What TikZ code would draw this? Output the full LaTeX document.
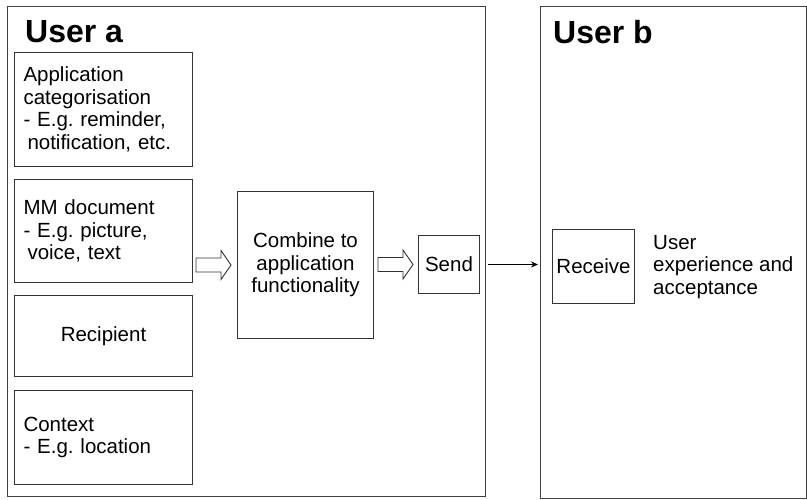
\documentclass[tikz,border=0pt]{standalone}
\usepackage{fontspec}
\setmainfont{Liberation Sans}
\frenchspacing
\usetikzlibrary{arrows.meta,calc}
\tikzset{
  frame/.style={draw=black!75, line width=1.4pt, inner sep=0pt},
  itembox/.style={draw=black!80, line width=1pt, minimum width=178pt, text width=160pt, inner xsep=9pt, align=left, font=\fontsize{20.5}{22.5}\selectfont\frenchspacing},
  plainbox/.style={draw=black!80, line width=1pt, inner sep=0pt, align=center, font=\fontsize{20.5}{22.5}\selectfont},
  title/.style={font=\fontsize{32}{36}\selectfont\bfseries, anchor=base west, inner sep=0pt},
  label/.style={align=left, inner sep=0pt, anchor=west, font=\fontsize{20.5}{22.5}\selectfont},
  blockarrow/.style={draw=black!80, line width=0.9pt, fill=white},
  thinarrow/.style={draw=black, line width=1pt, -{Stealth[length=7pt,width=6pt]}}
}
\begin{document}
\begin{tikzpicture}[x=1pt,y=-1pt]
\useasboundingbox (0,0) rectangle (807,499);
% outer frames
\node[frame, minimum width=478pt, minimum height=490pt, anchor=north west] (ua) at (7,6) {};
\node[frame, minimum width=266pt, minimum height=492pt, anchor=north west] (ub) at (540,6) {};
\node[title] (uat) at (25,42) {User a};
\node[title] (ubt) at (553,43) {User b};
% left column boxes
\node[itembox, minimum height=114pt, anchor=north west] (cat) at (14,52) {Application\\categorisation\\- E.g. reminder,\\\hspace*{4pt}notification, etc.};
\node[itembox, minimum height=103pt, anchor=north west] (mm) at (14,179) {MM document\\- E.g. picture,\\\hspace*{4pt}voice, text};
\node[itembox, minimum height=81pt, anchor=north west, align=center] (rec) at (14,295) {Recipient};
\node[itembox, minimum height=94pt, anchor=north west] (ctx) at (14,390) {Context\\- E.g. location};
% combine and send
\node[plainbox, minimum width=136pt, minimum height=147pt, anchor=north west] (comb) at (237,191) {Combine to\\application\\functionality};
\node[plainbox, minimum width=61pt, minimum height=58pt, anchor=north west] (send) at (418,235) {Send};
% receive
\node[plainbox, minimum width=82pt, minimum height=74pt, anchor=north west] (recv) at (552,229) {Receive};
\node[label] (ux) at (653,267) {User\\experience and\\acceptance};
% block arrows
\draw[blockarrow] let \p1=($(mm.east |- comb.west)+(3,0)$), \p2=($(comb.west)+(-6,0)$) in
  (\x1,\y1+7pt) -- (\x2-10pt,\y1+7pt) -- (\x2-10pt,\y1+14.5pt) -- (\x2,\y1) -- (\x2-10pt,\y1-14.5pt) -- (\x2-10pt,\y1-7pt) -- (\x1,\y1-7pt) -- cycle;
\draw[blockarrow] let \p1=($(comb.east |- send.west)+(4,0)$), \p2=($(send.west)+(-5,0)$) in
  (\x1,\y1+7pt) -- (\x2-10pt,\y1+7pt) -- (\x2-10pt,\y1+14.5pt) -- (\x2,\y1) -- (\x2-10pt,\y1-14.5pt) -- (\x2-10pt,\y1-7pt) -- (\x1,\y1-7pt) -- cycle;
% send to receive
\coordinate (s1) at ($(ua.east |- send.east)+(2,0)$);
\coordinate (s2) at ($(ub.west |- send.east)+(-2,0)$);
\draw[thinarrow] (s1) -- (s2);
\end{tikzpicture}
\end{document}
